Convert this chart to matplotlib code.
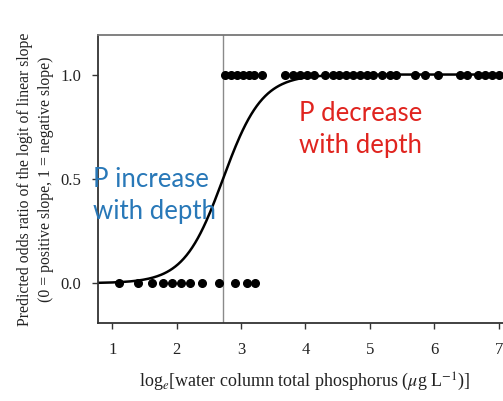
import numpy as np
import matplotlib
matplotlib.use('Agg')
from matplotlib import pyplot as plt

plt.rcParams['font.family'] = ['Liberation Serif', 'DejaVu Serif']
plt.rcParams['mathtext.fontset'] = 'stix'

# observed sites, loge(TP), slope sign
x_pos = [1.11, 1.40, 1.61, 1.79, 1.93, 2.06, 2.20, 2.40, 2.65, 2.90, 3.09, 3.22]
x_neg = [2.75, 2.85, 2.94, 3.03, 3.13, 3.20, 3.33, 3.69, 3.81, 3.92, 4.03, 4.14,
         4.31, 4.42, 4.52, 4.63, 4.74, 4.85, 4.96, 5.05, 5.19, 5.32, 5.41, 5.70,
         5.86, 6.06, 6.40, 6.51, 6.68, 6.79, 6.90, 7.01]

# fitted logistic curve
midpoint = 2.72
slope = 3.3

xs = np.linspace(0.78, 7.3, 300)
ys = 1.0 / (1.0 + np.exp(-slope * (xs - midpoint)))

fig = plt.figure(figsize=(5.03, 4.01), dpi=100)
ax = fig.add_axes([0.195, 0.195, 0.822, 0.718])

ax.axvline(midpoint, color='#8a8a8a', lw=1.0, zorder=1)
ax.plot(xs, ys, color='black', lw=1.8, zorder=2)
ax.plot(x_pos, np.zeros(len(x_pos)), 'o', color='black', ms=5.5, zorder=3)
ax.plot(x_neg, np.ones(len(x_neg)), 'o', color='black', ms=5.5, zorder=3)

ax.set_xlim(0.78, 7.2)
ax.set_ylim(-0.19, 1.19)
ax.set_xticks([1, 2, 3, 4, 5, 6, 7])
ax.set_yticks([0.0, 0.5, 1.0])
ax.set_yticklabels(['0.0', '0.5', '1.0'])
ax.tick_params(labelsize=12, length=4, width=1, colors='#333333', labelcolor='#222222')
ax.tick_params(axis='x', pad=10)
ax.tick_params(axis='y', pad=8)

for s in ['left', 'bottom']:
    ax.spines[s].set_color('#333333')
    ax.spines[s].set_linewidth(1.3)
ax.spines['top'].set_color('#777777')
ax.spines['top'].set_linewidth(1.3)
ax.spines['right'].set_visible(False)

ax.set_xlabel(r'log$_e$[water column total phosphorus ($\mu$g L$^{-1}$)]',
              fontsize=13, color='#222222', labelpad=9)
ax.set_ylabel('Predicted odds ratio of the logit of linear slope\n'
              '(0 = positive slope, 1 = negative slope)',
              fontsize=11.3, color='#222222', labelpad=5, linespacing=1.35)

ax.text(4.85, 0.735, 'P decrease\nwith depth', color='#e0241f', fontsize=18.5,
        family=['Lato', 'DejaVu Sans'], ha='center', va='center', linespacing=1.35)
ax.text(0.705, 0.42, 'P increase\nwith depth', color='#2878b8', fontsize=18.5,
        family=['Lato', 'DejaVu Sans'], ha='left', va='center', linespacing=1.35)

fig.savefig('out.png', dpi=100)
